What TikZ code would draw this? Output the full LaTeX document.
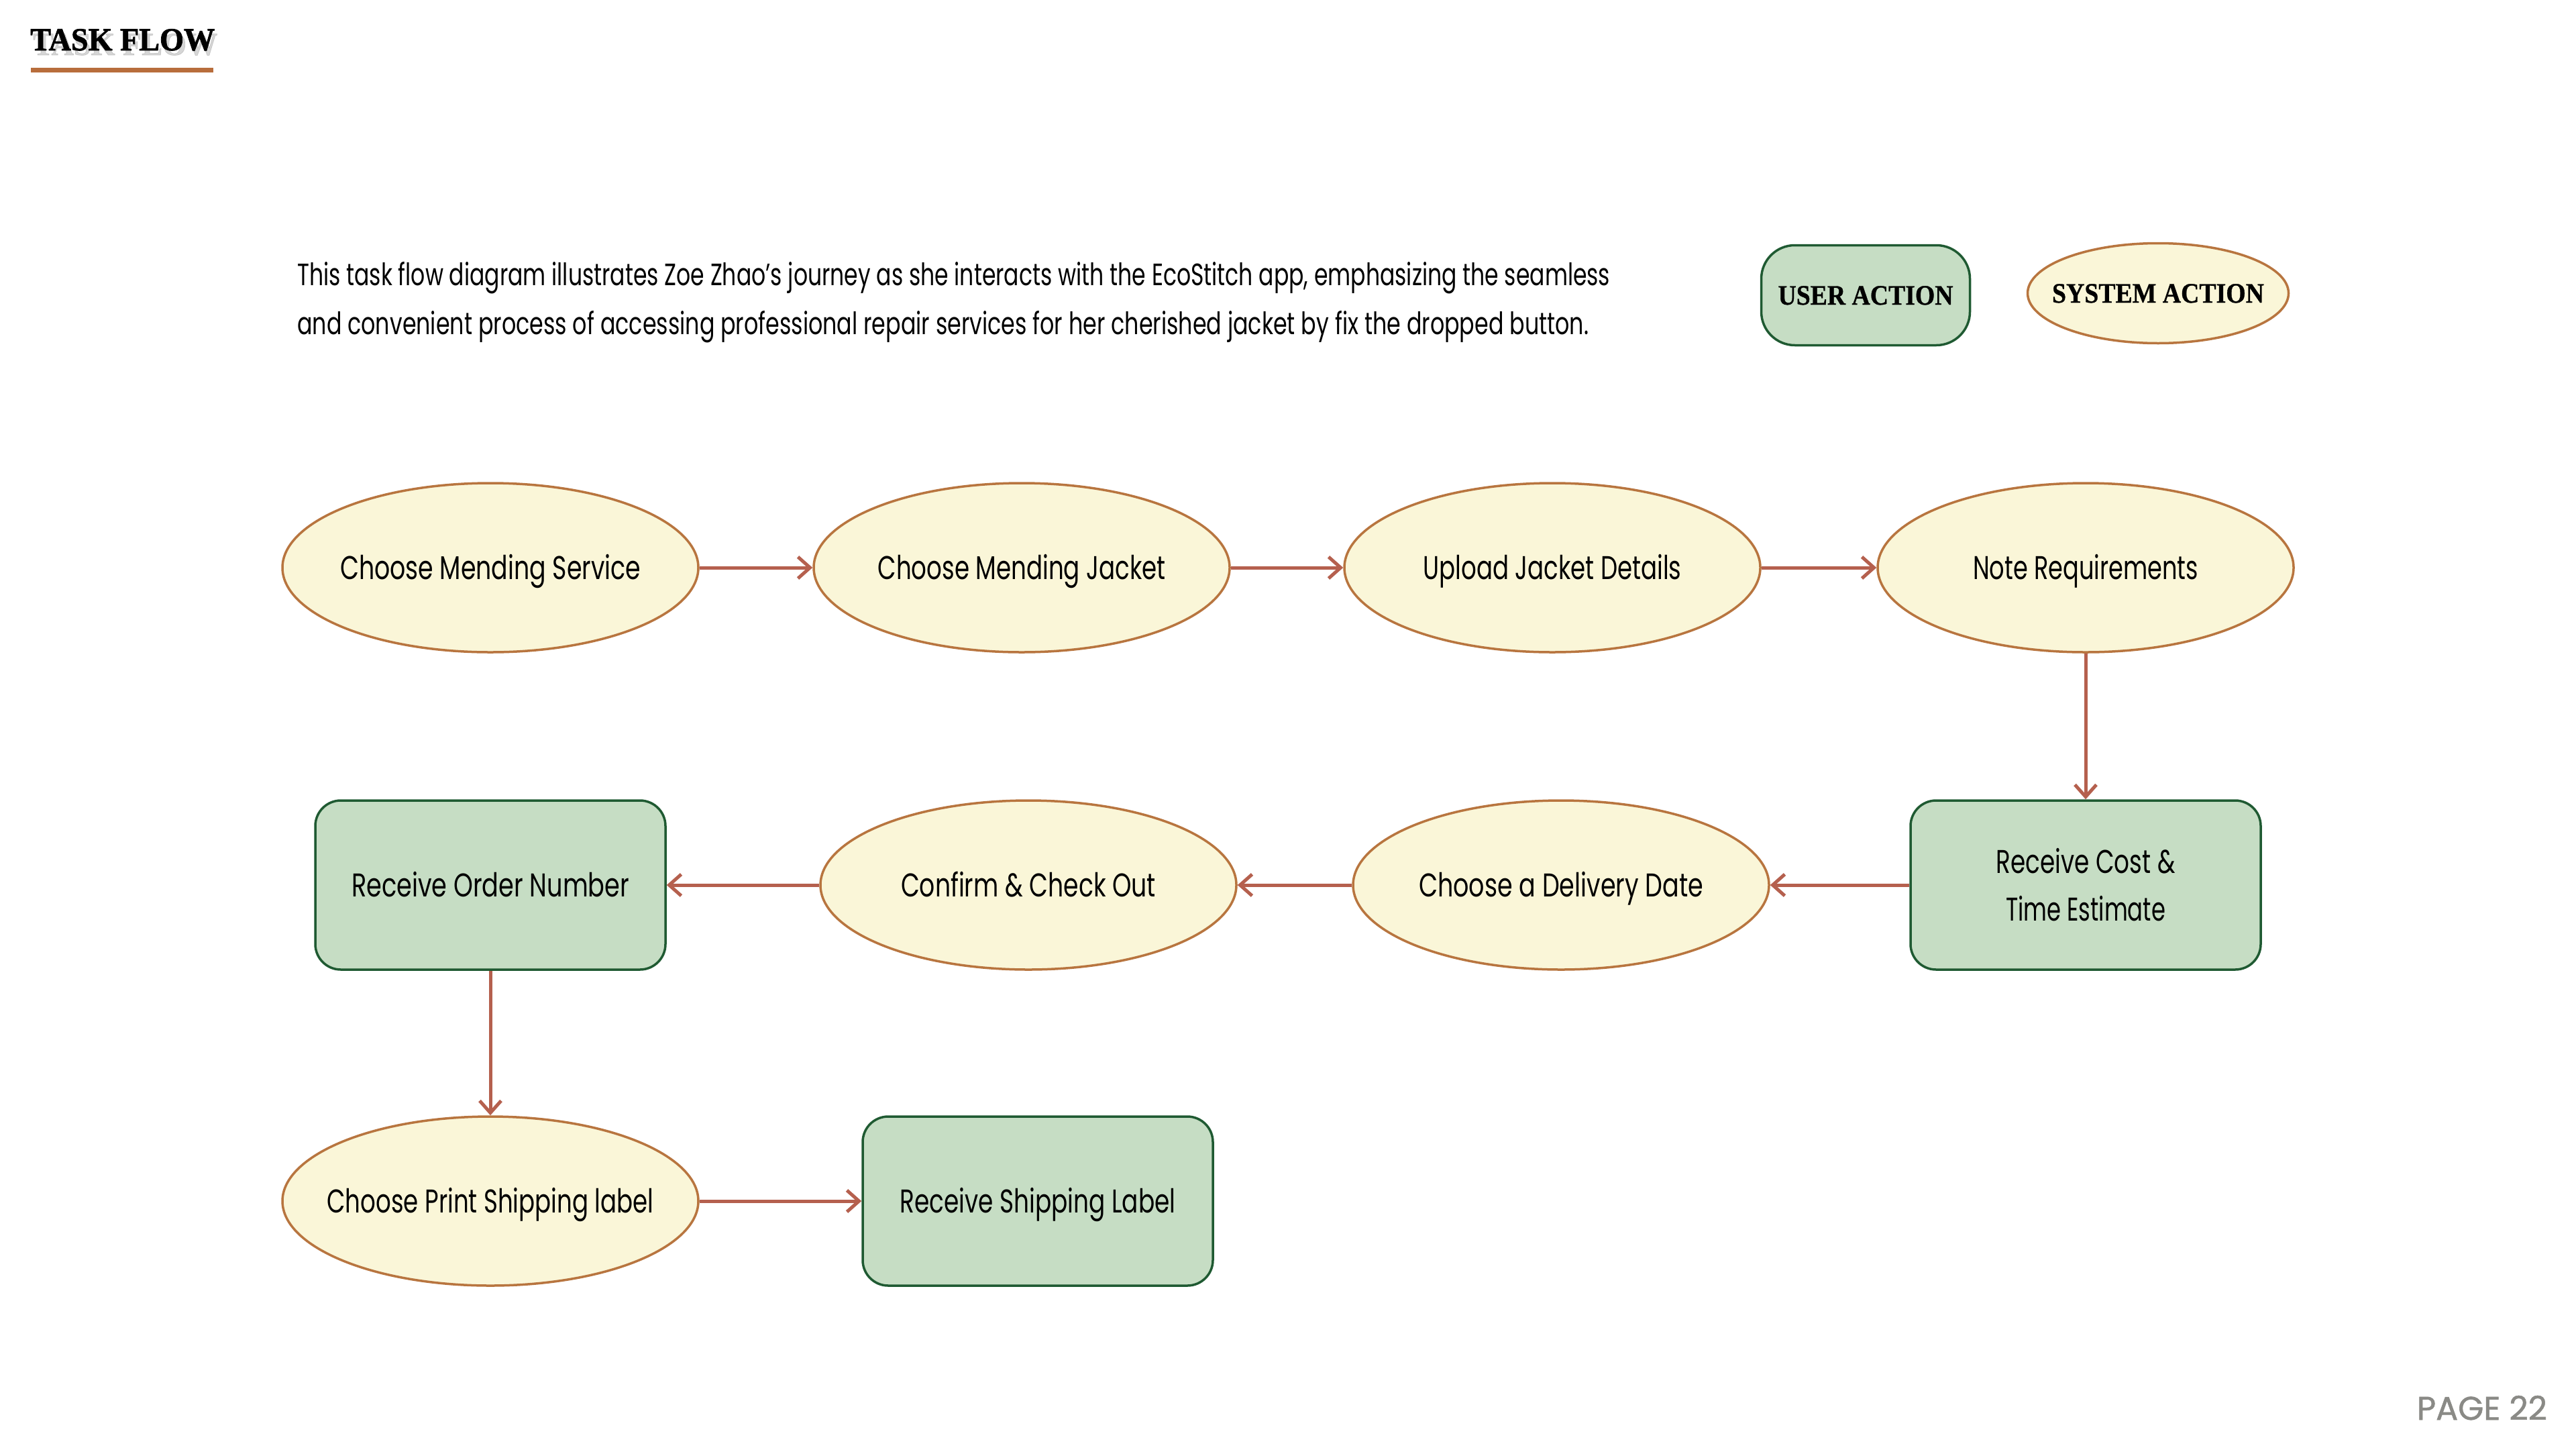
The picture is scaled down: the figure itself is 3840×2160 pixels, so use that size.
\documentclass[tikz,border=0pt]{standalone}
\usepackage{fontspec}
\usepackage{graphicx}
\setmainfont{Poppins}
\newfontfamily\titlefont[BoldFeatures={FakeBold=1.6}]{Liberation Serif}
\newfontfamily\legendfont[BoldFeatures={FakeBold=0.8}]{Liberation Serif}
\newfontfamily\pagefont[FakeBold=1.2]{Poppins}
\usetikzlibrary{shapes.geometric,arrows.meta}
\definecolor{cream}{HTML}{FAF6D8}
\definecolor{creamline}{HTML}{B8753F}
\definecolor{sage}{HTML}{C6DDC4}
\definecolor{sageline}{HTML}{1F5A32}
\definecolor{arrowc}{HTML}{B5604E}
\definecolor{rust}{HTML}{B86D3C}
\definecolor{pagegray}{HTML}{8A8A86}
\newcommand\fitw[2]{\resizebox{#1}{\height}{#2}}
\newcommand\lbl[2]{\makebox[0pt]{\fitw{#1}{#2}}}
\begin{document}
\begin{tikzpicture}[x=1pt,y=-1pt,
  sysnode/.style={ellipse, draw=creamline, fill=cream, line width=3.5pt,
    minimum width=620pt, minimum height=252pt, inner sep=0pt,
    font=\fontsize{49}{71}\selectfont},
  usernode/.style={rectangle, rounded corners=38pt, draw=sageline, fill=sage,
    line width=3.5pt, minimum width=522pt, minimum height=252pt, inner sep=0pt,
    align=center, font=\fontsize{49}{71}\selectfont},
  capc/.style={text height=34pt, text depth=0pt},
  flow/.style={draw=arrowc, line width=5pt, -{Straight Barb[length=18pt,width=32pt]}},
]
\useasboundingbox[fill=white] (0,0) rectangle (3840,2160);

% title
\node[anchor=base west, inner sep=0pt, text=black!40, opacity=0.4] (titleshadow) at (49,82)
  {\titlefont\bfseries\fontsize{48}{58}\selectfont\fitw{275pt}{TASK FLOW}};
\node[anchor=base west, inner sep=0pt] (title) at (45,75)
  {\titlefont\bfseries\fontsize{48}{58}\selectfont\fitw{275pt}{TASK FLOW}};
\draw[rust, line width=7pt] (46,104.5) -- (318,104.5);

% description
\node[anchor=base west, inner sep=0pt] (d1) at (443,425)
  {\fontsize{46}{71}\selectfont\fitw{1957pt}{This task flow diagram illustrates Zoe Zhao’s journey as she interacts with the EcoStitch app, emphasizing the seamless}};
\node[anchor=base west, inner sep=0pt] (d2) at (443,498)
  {\fontsize{46}{71}\selectfont\fitw{1925pt}{and convenient process of accessing professional repair services for her cherished jacket by fix the dropped button.}};

% legend
\node[usernode, minimum width=311pt, minimum height=149pt, rounded corners=50pt,
      text height=28pt, text depth=0pt] (lu) at (2781,440)
  {\legendfont\bfseries\fontsize{42}{50}\selectfont\fitw{261pt}{USER ACTION}};
\node[sysnode, minimum width=389pt, minimum height=149pt,
      text height=28pt, text depth=0pt] (ls) at (3217,437)
  {\legendfont\bfseries\fontsize{42}{50}\selectfont\lbl{316pt}{SYSTEM ACTION}};

% flow nodes
\node[sysnode, capc] (s1) at (731,846) {\lbl{448pt}{Choose Mending Service}};
\node[sysnode, capc] (s2) at (1523,846) {\lbl{429pt}{Choose Mending Jacket}};
\node[sysnode, capc] (s3) at (2314,846) {\lbl{385pt}{Upload Jacket Details}};
\node[sysnode, capc] (s4) at (3109,846) {\lbl{336pt}{Note Requirements}};
\node[usernode] (u1) at (3109,1319) {\fitw{267pt}{Receive Cost \&}\\\fitw{238pt}{Time Estimate}};
\node[sysnode, capc] (s5) at (2327,1319) {\lbl{424pt}{Choose a Delivery Date}};
\node[sysnode, capc] (s6) at (1533,1319) {\lbl{380pt}{Confirm \& Check Out}};
\node[usernode, capc] (u2) at (731,1319) {\fitw{414pt}{Receive Order Number}};
\node[sysnode, capc] (s7) at (731,1790) {\lbl{487pt}{Choose Print Shipping label}};
\node[usernode, capc] (u3) at (1547,1790) {\fitw{411pt}{Receive Shipping Label}};

% connectors
\draw[flow] (s1) -- (s2);
\draw[flow] (s2) -- (s3);
\draw[flow] (s3) -- (s4);
\draw[flow] (s4) -- (u1);
\draw[flow] (u1) -- (s5);
\draw[flow] (s5) -- (s6);
\draw[flow] (s6) -- (u2);
\draw[flow] (u2) -- (s7);
\draw[flow] (s7) -- (u3);

% page number
\node[anchor=base east, inner sep=0pt, text=pagegray] (pg) at (3797,2116)
  {\pagefont\fontsize{49}{58}\selectfont\fitw{194pt}{PAGE 22}};
\end{tikzpicture}
\end{document}
